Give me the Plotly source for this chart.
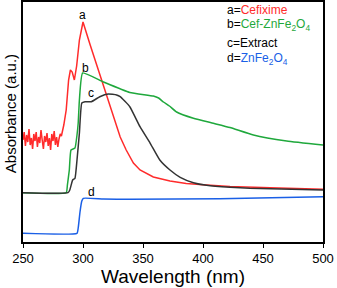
import plotly.graph_objects as go

# Wavelength (nm) and absorbance (a.u., offset curves)
wl_a = [250, 251, 252, 253, 254, 255, 256, 257, 258, 259, 260, 261, 262, 263, 264, 265, 266,
        267, 268, 269, 270, 271, 272, 273, 274, 275, 276, 277, 278, 279, 280, 281, 282,
        284, 286, 288, 289.5, 291, 292.8, 294.7, 297, 300, 306, 314, 320, 326.7, 331, 336,
        342, 347.5, 358.6, 372.5, 386, 403, 422.5, 456, 500]
abs_a = [1.02, 1.10, 0.96, 1.07, 1.00, 1.13, 0.97, 1.04, 0.93, 1.08, 1.01, 1.10, 0.95, 1.05,
         0.99, 1.12, 1.02, 0.93, 1.06, 1.00, 1.09, 0.96, 1.04, 0.92, 1.08, 1.01, 1.11, 0.97,
         1.05, 0.95, 1.03, 1.08, 1.06,
         1.17, 1.32, 1.62, 1.72, 1.70, 1.62, 1.76, 2.02, 2.20, 1.97, 1.67, 1.44, 1.19, 1.05,
         0.92, 0.79, 0.72, 0.65, 0.61, 0.585, 0.57, 0.555, 0.543, 0.527]

wl_b = [250, 286, 287, 288.6, 290, 293.3, 295, 296, 297, 299.7, 317, 339, 358.6, 363, 367,
        372, 378, 392, 408.6, 422.5, 442, 469.7, 500]
abs_b = [0.493, 0.493, 0.57, 0.72, 0.92, 0.94, 1.07, 1.19, 1.42, 1.69, 1.60, 1.495, 1.46,
         1.44, 1.40, 1.36, 1.30, 1.237, 1.187, 1.145, 1.07, 1.01, 0.97]

wl_c = [250, 287.5, 289, 291.4, 293.3, 295, 297, 299, 301.7, 307, 314, 321, 328, 331, 339,
        347.5, 356, 364, 372.5, 381, 392, 403, 422.5, 439, 500]
abs_c = [0.493, 0.493, 0.52, 0.62, 0.637, 0.82, 1.09, 1.39, 1.403, 1.403, 1.453, 1.48, 1.47,
         1.453, 1.353, 1.153, 0.987, 0.82, 0.72, 0.647, 0.593, 0.567, 0.547, 0.537, 0.52]

wl_d = [250, 295, 296, 297.5, 299, 300.3, 317, 339, 414, 500]
abs_d = [0.087, 0.087, 0.14, 0.30, 0.41, 0.437, 0.43, 0.427, 0.433, 0.453]

x_ticks = [250, 300, 350, 400, 450, 500]

RED = "#ff2b2b"
GREEN = "#1fa83c"
BLACK = "#333333"
BLUE = "#1a5fe6"
FONT = "Arial, Liberation Sans, sans-serif"

fig = go.Figure()
fig.add_trace(go.Scatter(x=wl_a, y=abs_a, mode="lines", line=dict(color=RED, width=1.5)))
fig.add_trace(go.Scatter(x=wl_b, y=abs_b, mode="lines",
                         line=dict(color=GREEN, width=1.5, shape="spline", smoothing=0.4)))
fig.add_trace(go.Scatter(x=wl_c, y=abs_c, mode="lines",
                         line=dict(color=BLACK, width=1.5, shape="spline", smoothing=0.4)))
fig.add_trace(go.Scatter(x=wl_d, y=abs_d, mode="lines",
                         line=dict(color=BLUE, width=1.5, shape="spline", smoothing=0.4)))

# curve letters
for txt, x, y in [("a", 299.7, 2.27), ("b", 302.2, 1.74), ("c", 306.4, 1.49), ("d", 307.2, 0.50)]:
    fig.add_annotation(x=x, y=y, text=txt, showarrow=False, xanchor="center", yanchor="middle",
                       font=dict(size=12, color="black", family=FONT))

legend_items = [
    ("a=<span style='color:%s'>Cefixime</span>" % RED, 0.967),
    ("b=<span style='color:%s'>Cef-ZnFe<sub>2</sub>O<sub>4</sub></span>" % GREEN, 0.904),
    ("c=Extract", 0.829),
    ("d=<span style='color:%s'>ZnFe<sub>2</sub>O<sub>4</sub></span>" % BLUE, 0.7625),
]
for txt, yp in legend_items:
    fig.add_annotation(x=0.673, y=yp, xref="paper", yref="paper", text=txt, showarrow=False,
                       xanchor="left", yanchor="middle",
                       font=dict(size=12, color="black", family=FONT))

# axis titles
fig.add_annotation(x=0.5, y=-0.142, xref="paper", yref="paper", text="Wavelength (nm)",
                   showarrow=False, xanchor="center", yanchor="middle",
                   font=dict(size=19, color="black", family=FONT))
fig.add_annotation(x=-0.043, y=0.533, xref="paper", yref="paper", text="Absorbance (a.u.)",
                   showarrow=False, xanchor="center", yanchor="middle", textangle=-90,
                   font=dict(size=15, color="black", family=FONT))

fig.update_layout(
    width=337, height=288,
    margin=dict(l=23, r=14, t=2, b=46, autoexpand=False),
    paper_bgcolor="white", plot_bgcolor="white",
    showlegend=False,
    font=dict(family=FONT, color="black"),
)
fig.update_xaxes(range=[250, 500], tickvals=x_ticks, ticks="outside", ticklen=4,
                 tickcolor="black", showline=True, linecolor="black", linewidth=1.5,
                 mirror=True, showgrid=False, zeroline=False, automargin=False,
                 tickfont=dict(size=13, family=FONT))
fig.update_yaxes(range=[0, 2.4], showticklabels=False, ticks="", showline=True,
                 linecolor="black", linewidth=1.5, mirror=True, showgrid=False, zeroline=False,
                 automargin=False)

fig.write_html("out.html", config={"displayModeBar": False},
               post_script="document.body.style.margin='0';document.body.style.overflow='hidden';")
